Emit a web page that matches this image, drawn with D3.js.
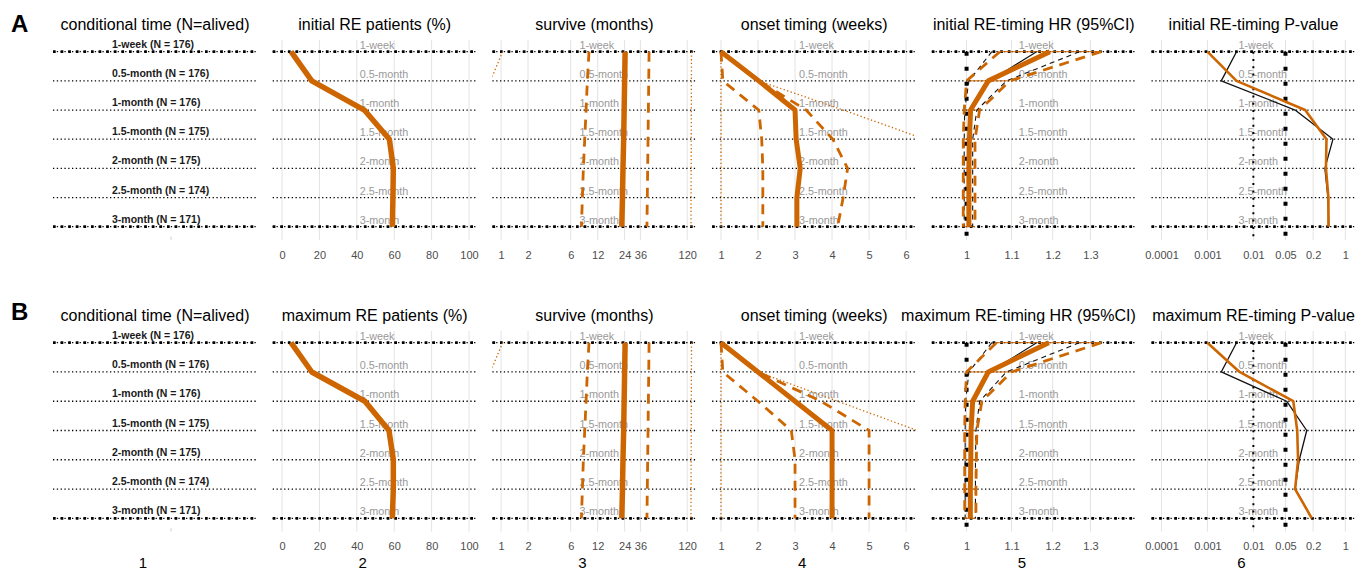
<!DOCTYPE html>
<html>
<head>
<meta charset="utf-8">
<script src="https://cdn.jsdelivr.net/npm/d3@7"></script>
<style>
body { margin: 0; background: #fff; }
text { font-family: "Liberation Sans", Arial, sans-serif; }
</style>
</head>
<body>
<script>
// rijen en kolommen
var rowLabels = ["1-week", "0.5-month", "1-month", "1.5-month", "2-month", "2.5-month", "3-month"]
var aliveN = [176, 176, 176, 175, 175, 174, 171]
var colNumbers = ["1", "2", "3", "4", "5", "6"]

var titlesA = ["conditional time (N=alived)", "initial RE patients (%)", "survive (months)",
  "onset timing (weeks)", "initial RE-timing HR (95%CI)", "initial RE-timing P-value"]
var titlesB = ["conditional time (N=alived)", "maximum RE patients (%)", "survive (months)",
  "onset timing (weeks)", "maximum RE-timing HR (95%CI)", "maximum RE-timing P-value"]

// tick labels
var pctTicks = [0, 20, 40, 60, 80, 100]
var survTicks = [1, 2, 6, 12, 24, 36, 120]
var onsetTicks = [1, 2, 3, 4, 5, 6]
var hrTicks = [1, 1.1, 1.2, 1.3]
var pTicks = [0.0001, 0.001, 0.01, 0.05, 0.2, 1]

// referentie lijnen
var hrRef = [1]
var pRefs = [0.01, 0.05]

// RE patienten (%)
var pctA = [4.8, 15.9, 44.0, 57.4, 59.5, 59.3, 59.0]
var pctB = [4.8, 15.9, 44.3, 57.2, 59.5, 59.5, 59.0]

// overleving (maanden), zelfde in A en B
var survMed = [24.3, 24.0, 23.7, 23.4, 23.0, 22.7, 22.3]
var survLo = [9.6, 9.2, 8.9, 8.6, 8.3, 8.1, 7.9]
var survHi = [45, 44.6, 44.2, 43.8, 43.4, 43.0, 42.6]
var survLoDot = [1.04, 0.76, null, null, null, null, null]
var survHiDot = [134, 133.7, 133.4, 133.1, 132.8, 132.5, 132.2]

// onset (weken)
var onsetMedA = [1, 2.02, 3.0, 3.03, 3.14, 3.05, 3.05]
var onsetLoA = [1, 1.05, 2.02, 2.1, 2.13, 2.13, 2.13]
var onsetHiA = [1, 2.02, 3.3, 4.02, 4.42, 4.3, 4.15]
var onsetLoDotA = [1, 1, 1, 1, 1, 1, 1]
var onsetHiDotA = [1, 2.02, 4.3, 6.5, null, null, null]

var onsetMedB = [1, 2, 3, 4, 4, 4, 4]
var onsetLoB = [1, 1.05, 2, 2.9, 3, 3, 3]
var onsetHiB = [1, 2, 3.7, 5, 5, 5, 5]
var onsetLoDotB = [1, 1, 1, 1, 1, 1, 1]
var onsetHiDotB = [1, 2, 4.15, 6.3, null, null, null]

// HR (95%CI)
var hrA = [1.193, 1.047, 1.0085, 1.006, 1.005, 1.005, 1.005]
var hrLoA = [1.073, 1.0, 0.995, 0.993, 0.993, 0.993, 0.993]
var hrHiA = [1.33, 1.096, 1.028, 1.018, 1.018, 1.018, 1.018]
var hrRawA = [1.16, 1.05, 1.008, 1.005, 1.005, 1.005, 1.005]
var hrRawLoA = [1.055, 1.005, 0.996, 0.995, 0.995, 0.995, 0.995]
var hrRawHiA = [1.27, 1.088, 1.022, 1.013, 1.013, 1.013, 1.013]

var hrB = [1.19, 1.047, 1.013, 1.0095, 1.009, 1.008, 1.008]
var hrLoB = [1.065, 1.0, 0.997, 0.996, 0.996, 0.996, 0.996]
var hrHiB = [1.33, 1.1, 1.033, 1.022, 1.021, 1.02, 1.02]
var hrRawB = [1.16, 1.05, 1.013, 1.009, 1.009, 1.008, 1.008]
var hrRawLoB = [1.055, 1.005, 0.998, 0.997, 0.997, 0.997, 0.997]
var hrRawHiB = [1.27, 1.088, 1.028, 1.02, 1.019, 1.019, 1.019]

// P-waarden
var pA = [0.001, 0.0043, 0.134, 0.39, 0.38, 0.43, 0.43]
var pRawA = [0.0043, 0.002, 0.081, 0.54, 0.36, 0.42, 0.44]
var pB = [0.001, 0.005, 0.074, 0.09, 0.094, 0.081, 0.187]
var pRawB = [0.0043, 0.002, 0.053, 0.145, 0.1, 0.081, 0.187]

// layout
var width = 1371
var height = 575
var orange = "#CD6600"
var firstLeft = 53
var colStep = 219.7
var plotW = 204

var panels = [
  {letter: "A", letterY: 32, titleY: 30, rowTop: 51.7, rowBottom: 226.7, tickY: 259, titles: titlesA,
   pct: pctA, onset: [onsetLoDotA, onsetHiDotA, onsetLoA, onsetHiA, onsetMedA],
   hr: [hrA, hrLoA, hrHiA, hrRawA, hrRawLoA, hrRawHiA], p: [pA, pRawA]},
  {letter: "B", letterY: 320, titleY: 321, rowTop: 342.7, rowBottom: 518.3, tickY: 550, titles: titlesB,
   pct: pctB, onset: [onsetLoDotB, onsetHiDotB, onsetLoB, onsetHiB, onsetMedB],
   hr: [hrB, hrLoB, hrHiB, hrRawB, hrRawLoB, hrRawHiB], p: [pB, pRawB]}
]

var svg = d3.select("body").append("svg")
  .attr("width", width)
  .attr("height", height)

function rowData(values) {
  return rowLabels.map((r, i) => ({row: r, v: values[i]}))
}

var dashed = "10,7"
var dotted = "1.3,2.4"

function columnSpecs(pn) {
  return [
    {x: d3.scaleLinear().domain([-5, 104.1]), ticks: pctTicks,
     series: [{v: pn.pct, w: 5.5}]},
    {x: d3.scaleLog().domain([0.8, 152]), ticks: survTicks,
     series: [{v: survLoDot, w: 1.3, dash: dotted}, {v: survHiDot, w: 1.3, dash: dotted},
              {v: survLo, w: 2.8, dash: dashed}, {v: survHi, w: 2.8, dash: dashed},
              {v: survMed, w: 5.5}]},
    {x: d3.scaleLinear().domain([0.76, 6.27]), ticks: onsetTicks,
     series: [{v: pn.onset[0], w: 1.3, dash: dotted}, {v: pn.onset[1], w: 1.3, dash: dotted},
              {v: pn.onset[2], w: 2.8, dash: dashed}, {v: pn.onset[3], w: 2.8, dash: dashed},
              {v: pn.onset[4], w: 5}]},
    {x: d3.scaleLog().domain([0.929, 1.431]), ticks: hrTicks, bars: [pn.hr[1], pn.hr[2]],
     refs: hrRef.map(v => ({v: v, w: 4, dash: "4,11"})),
     series: [{v: pn.hr[4], w: 1.1, dash: "5,4", c: "#111"}, {v: pn.hr[5], w: 1.1, dash: "5,4", c: "#111"},
              {v: pn.hr[3], w: 1.1, c: "#111"},
              {v: pn.hr[1], w: 2.8, dash: dashed}, {v: pn.hr[2], w: 2.8, dash: dashed},
              {v: pn.hr[0], w: 5}]},
    {x: d3.scaleLog().domain([6.07e-5, 1.67]), ticks: pTicks,
     refs: [{v: pRefs[0], w: 2, dash: "2,5.3"}, {v: pRefs[1], w: 4, dash: "4,11"}],
     series: [{v: pn.p[1], w: 1.3, c: "#111"}, {v: pn.p[0], w: 2.6}]}
  ]
}

// titel boven een kolom, te lange titels eindigen aan de rechterkant
function addTitle(left, yPos, label) {
  var t = svg.append("text")
    .attr("x", left + plotW / 2).attr("y", yPos)
    .attr("text-anchor", "middle").style("font-size", "16px")
    .text(label)
  var len = t.node().getComputedTextLength()
  if (len > plotW + 16) {
    t.attr("text-anchor", "end").attr("x", left + plotW)
  }
}

panels.forEach(function(pn, pi) {
  var y = d3.scalePoint().domain(rowLabels).range([pn.rowTop, pn.rowBottom])

  svg.append("text")
    .attr("x", 11).attr("y", pn.letterY)
    .style("font-size", "24px").style("font-weight", "bold")
    .text(pn.letter)

  // kolom 1 : conditionele tijd
  var left0 = firstLeft
  addTitle(left0, pn.titleY, pn.titles[0])
  drawRows(svg, left0, y)
  svg.selectAll(null).data(rowLabels).enter().append("text")
    .attr("x", left0 + 59).attr("y", d => y(d) - 4)
    .style("font-size", "10.5px").style("font-weight", "bold").attr("fill", "#1a1a1a")
    .text((d, i) => d + " (N = " + aliveN[i] + ")")
  svg.append("line")
    .attr("x1", 171).attr("x2", 171)
    .attr("y1", pn.rowBottom + 10).attr("y2", pn.rowBottom + 13)
    .attr("stroke", "#ccc")

  columnSpecs(pn).forEach(function(spec, ci) {
    var col = ci + 1
    var left = firstLeft + col * colStep
    var x = spec.x.range([left, left + plotW])
    var g = svg.append("g")

    addTitle(left, pn.titleY, pn.titles[col])

    // grid
    g.selectAll(".grid").data(spec.ticks).enter().append("line")
      .attr("x1", d => x(d)).attr("x2", d => x(d))
      .attr("y1", pn.rowTop - 11.7).attr("y2", pn.rowBottom + 13.3)
      .attr("stroke", "#e3e3e3").attr("stroke-width", 1)

    // x as
    var xAxis = d3.axisBottom(x).tickValues(spec.ticks).tickSize(0).tickPadding(0)
      .tickFormat(d => String(d))
    var ag = g.append("g")
      .attr("transform", `translate(0,${pn.tickY - 7.8})`)
      .call(xAxis)
    ag.select(".domain").remove()
    ag.attr("font-size", 11).attr("font-family", "Liberation Sans, Arial, sans-serif")
    ag.selectAll("text").attr("fill", "#4d4d4d")

    drawRows(g, left, y)

    g.selectAll(".rowlab").data(rowLabels).enter().append("text")
      .attr("x", left + 87).attr("y", d => y(d) - 3)
      .style("font-size", "10.8px").attr("fill", "#999")
      .text(d => d)

    var clipId = "clip" + pi + "_" + col
    svg.append("clipPath").attr("id", clipId).append("rect")
      .attr("x", left).attr("y", pn.rowTop - 20)
      .attr("width", plotW).attr("height", pn.rowBottom - pn.rowTop + 40)
    var dg = g.append("g").attr("clip-path", `url(#${clipId})`)

    // referentie lijnen
    ;(spec.refs || []).forEach(function(r) {
      dg.append("line")
        .attr("x1", x(r.v)).attr("x2", x(r.v))
        .attr("y1", pn.rowTop).attr("y2", pn.rowBottom + 10)
        .attr("stroke", "#000").attr("stroke-width", r.w)
        .attr("stroke-dasharray", r.dash)
    })

    // foutbalken (HR)
    if (spec.bars) {
      dg.selectAll(".bar").data(rowLabels).enter().append("line")
        .attr("x1", (d, i) => x(spec.bars[0][i])).attr("x2", (d, i) => x(spec.bars[1][i]))
        .attr("y1", d => y(d)).attr("y2", d => y(d))
        .attr("stroke", orange).attr("stroke-width", 1)
    }

    var line = d3.line()
      .defined(d => d.v != null)
      .x(d => x(d.v))
      .y(d => y(d.row))

    spec.series.forEach(function(s) {
      dg.append("path")
        .datum(rowData(s.v))
        .attr("d", line)
        .attr("fill", "none")
        .attr("stroke", s.c || orange)
        .attr("stroke-width", s.w)
        .attr("stroke-linejoin", "round")
        .attr("stroke-dasharray", s.dash || null)
    })
  })
})

// kolom nummers
svg.selectAll(".colnum").data(colNumbers).enter().append("text")
  .attr("x", (d, i) => firstLeft + i * colStep + 90)
  .attr("y", 568)
  .attr("text-anchor", "middle")
  .style("font-size", "15px")
  .text(d => d)

function drawRows(g, left, y) {
  g.selectAll(null).data(rowLabels).enter().append("line")
    .attr("x1", left).attr("x2", left + plotW)
    .attr("y1", d => y(d)).attr("y2", d => y(d))
    .attr("stroke", "#000").attr("stroke-width", 1.3)
    .attr("stroke-dasharray", "1.3,2.5")
  g.selectAll(null).data([rowLabels[0], rowLabels[rowLabels.length - 1]]).enter().append("line")
    .attr("x1", left).attr("x2", left + plotW)
    .attr("y1", d => y(d)).attr("y2", d => y(d))
    .attr("stroke", "#000").attr("stroke-width", 2.7)
    .attr("stroke-dasharray", "2.7,4.9")
}
</script>
</body>
</html>
